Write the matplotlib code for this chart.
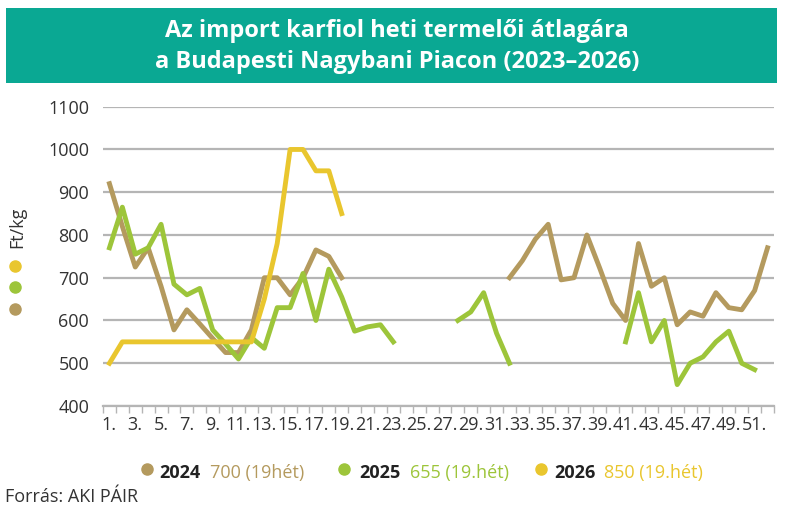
import numpy as np
import matplotlib
matplotlib.use("Agg")
import matplotlib.pyplot as plt
from matplotlib.patches import Rectangle
from matplotlib.lines import Line2D

plt.rcParams["font.family"] = ["Open Sans", "DejaVu Sans"]

# weekly average producer price, Ft/kg (None = no quote)
weeks = list(range(1, 53))
price_2024 = [920, 820, 725, 770, 680, 578, 625, 592, 558, 525,
              525, 578, 700, 700, 660, 700, 765, 750, 700, None,
              None, None, None, None, None, None, None, None, None, None,
              None, 700, 740, 790, 825, 695, 700, 800, 722, 640,
              600, 780, 680, 700, 590, 620, 610, 665, 630, 625,
              670, 770]
price_2025 = [770, 865, 755, 770, 825, 685, 660, 675, 578, 545,
              510, 560, 535, 630, 630, 710, 600, 720, 655, 575,
              585, 590, 550, None, None, None, None, 600, 620, 665,
              570, 500, None, None, None, None, None, None, None, None,
              550, 665, 550, 600, 450, 500, 515, 550, 575, 500,
              485, None]
price_2026 = [500, 550, 550, 550, 550, 550, 550, 550, 550, 550,
              550, 550, 650, 780, 1000, 1000, 950, 950, 850] + [None] * 33

years = ["2024", "2025", "2026"]
last_values = ["700 (19hét)", "655 (19.hét)", "850 (19.hét)"]
tick_labels = [f"{w}." for w in weeks if w % 2 == 1]

c_brown = "#B49A5E"
c_green = "#9DC53A"
c_yellow = "#E9C62E"
c_teal = "#0AA893"
c_grid = "#B5B5B5"
c_text = "#333333"

W, H = 794, 522
fig = plt.figure(figsize=(W / 100, H / 100), dpi=100)


def fx(px):
    return px / W


def fy(py):
    return 1 - py / H


# title band
fig.patches.append(Rectangle((fx(6), fy(83.3)), fx(776.7) - fx(6), fy(8.3) - fy(83.3),
                             transform=fig.transFigure, facecolor=c_teal,
                             edgecolor="none", zorder=0))
fig.text(fx(397), fy(31), "Az import karfiol heti termelői átlagára",
         ha="center", va="center", color="white", fontsize=17, fontweight="bold")
fig.text(fx(397), fy(62), "a Budapesti Nagybani Piacon (2023–2026)",
         ha="center", va="center", color="white", fontsize=17, fontweight="bold")

ax = fig.add_axes([fx(103), fy(406), fx(774) - fx(103), fy(106.7) - fy(406)])

to_arr = lambda v: np.array([np.nan if p is None else p for p in v], dtype=float)
ax.plot(weeks, to_arr(price_2024), color=c_brown, lw=3.5, zorder=3)
ax.plot(weeks, to_arr(price_2025), color=c_green, lw=3.5, zorder=4)
ax.plot(weeks, to_arr(price_2026), color=c_yellow, lw=3.5, zorder=5)

ax.set_xlim(0.5, 52.5)
ax.set_ylim(400, 1100)
ax.set_yticks(range(400, 1101, 100))
ax.yaxis.grid(True, color=c_grid, lw=1.6)
ax.set_axisbelow(True)
for s in ["top", "right", "left"]:
    ax.spines[s].set_visible(False)
ax.spines["bottom"].set_color(c_grid)
ax.spines["bottom"].set_linewidth(1.6)

# ticks at category boundaries, labels on odd weeks
ax.set_xticks(np.arange(0.5, 53, 1))
ax.set_xticklabels([])
ax.tick_params(axis="x", which="major", length=5, width=1, color=c_grid)
ax.set_xticks([w for w in weeks if w % 2 == 1], minor=True)
ax.set_xticklabels(tick_labels, minor=True)
ax.tick_params(axis="x", which="minor", length=0, pad=7, labelsize=13, labelcolor=c_text)
ax.tick_params(axis="y", length=0, pad=10, labelsize=13, labelcolor=c_text)

# y-axis title with colour dots
fig.text(fx(17), fy(227), "Ft/kg", rotation=90, ha="center", va="center",
         fontsize=13, color=c_text)
for py, c in zip([265.7, 287.3, 309], [c_yellow, c_green, c_brown]):
    fig.add_artist(Line2D([fx(15)], [fy(py)], marker="o", ms=8, color=c,
                          transform=fig.transFigure))

# bottom legend
dot_x = [146.7, 344, 541]
year_x = [159.3, 359.3, 554]
val_x = [210, 410, 604.3]
for y, val, c, dx, yx, vx in zip(years, last_values, [c_brown, c_green, c_yellow],
                                 dot_x, year_x, val_x):
    fig.add_artist(Line2D([fx(dx)], [fy(469)], marker="o", ms=8, color=c,
                          transform=fig.transFigure))
    fig.text(fx(yx), fy(473), y, ha="left", va="center", fontsize=13,
             fontweight="bold", color="#222222")
    fig.text(fx(vx), fy(473), val, ha="left", va="center", fontsize=13, color=c)

fig.text(fx(5), fy(497), "Forrás: AKI PÁIR", ha="left", va="center",
         fontsize=13, color=c_text)

fig.savefig("out.png", dpi=100)
